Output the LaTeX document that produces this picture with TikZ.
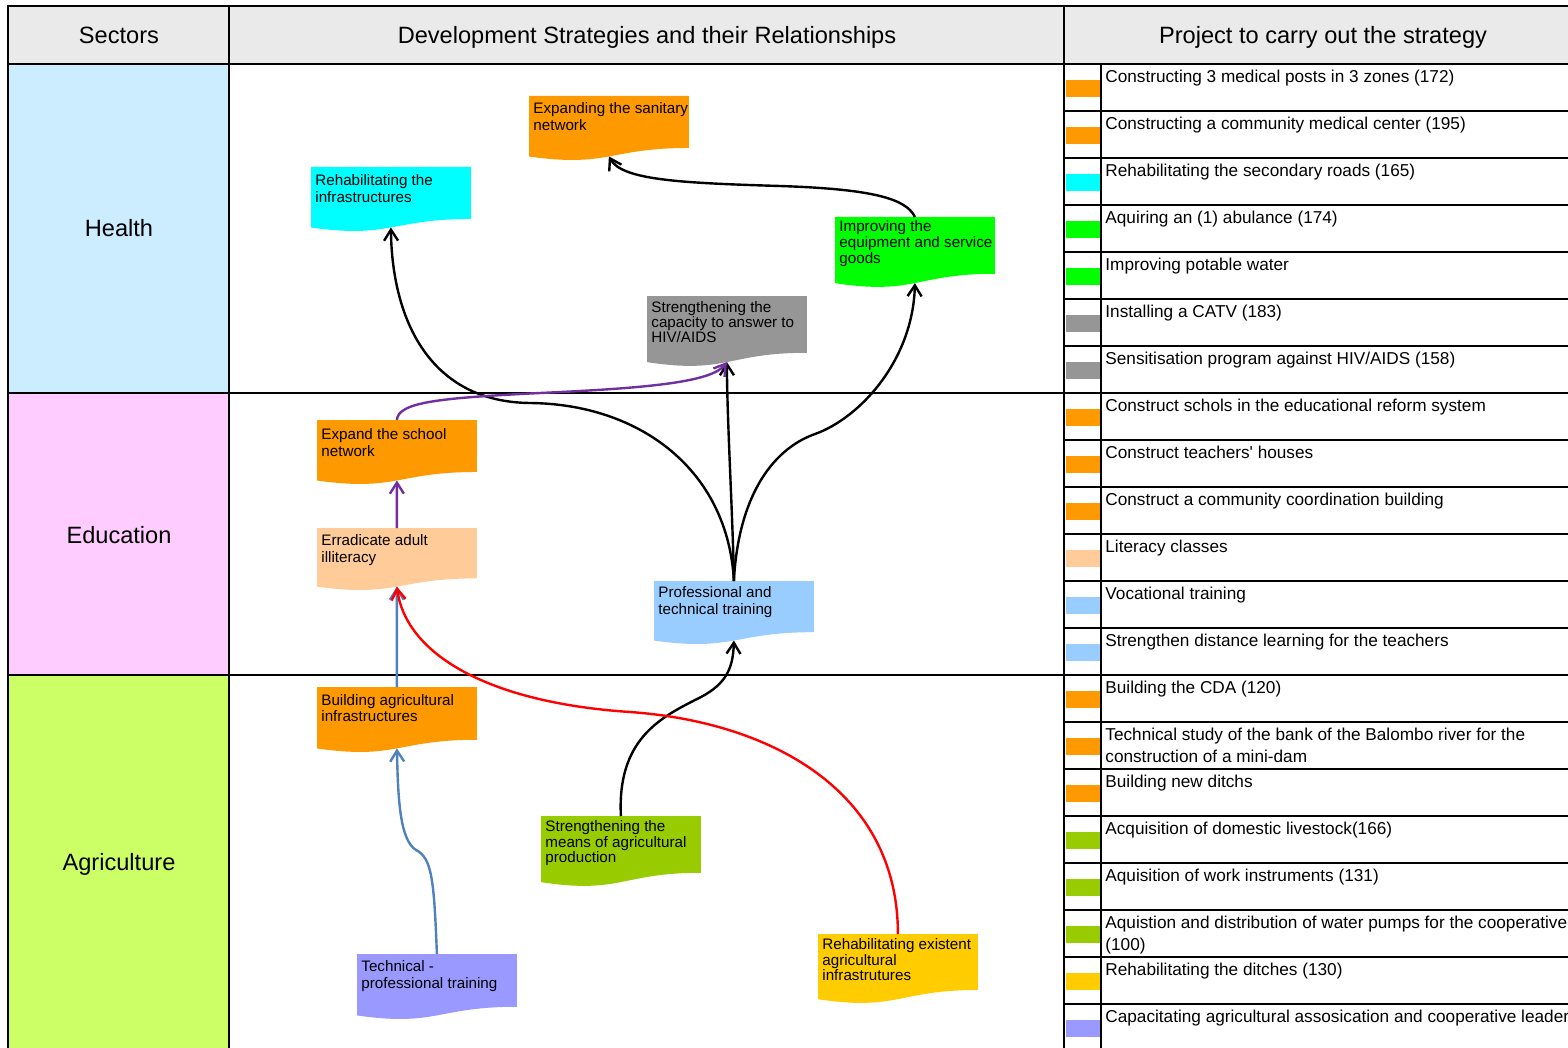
\documentclass[tikz,border=0pt]{standalone}
\usepackage{fontspec}
\setmainfont{Liberation Sans}
\usetikzlibrary{calc,arrows.meta}

% fills
\definecolor{hdrgray}{HTML}{EAEAEA}
\definecolor{healthbg}{HTML}{CCECFF}
\definecolor{edubg}{HTML}{FFCCFF}
\definecolor{agribg}{HTML}{CCFF66}
\definecolor{cOrange}{HTML}{FF9900}
\definecolor{cCyan}{HTML}{00FFFF}
\definecolor{cGreen}{HTML}{00FF00}
\definecolor{cGray}{HTML}{969696}
\definecolor{cPeach}{HTML}{FFCC99}
\definecolor{cSky}{HTML}{99CCFF}
\definecolor{cOlive}{HTML}{99CC00}
\definecolor{cLavender}{HTML}{9999FF}
\definecolor{cGold}{HTML}{FFCC00}
% connector colours
\definecolor{lnSteel}{HTML}{4F81BD}
\definecolor{lnPurple}{HTML}{7030A0}
\definecolor{lnRed}{HTML}{FF0000}

% strategy box with a wavy (document) bottom edge
% #1 name, #2 x, #3 y, #4 height, #5 colour, #6 first baseline offset, #7 baselineskip, #8 text
\newcommand\docbox[8]{%
  \node[docframe, minimum height=#4*0.5pt] (#1) at (#2,#3) {};
  \fill[#5] (#1.north west) -- (#1.north east)
     -- ($(#1.north east)!0.802!(#1.south east)$)
     .. controls ($(#1.north)!0.802!(#1.south)$) and ($(#1.north)!1.107!(#1.south)$)
     .. ($(#1.north west)!0.934!(#1.south west)$) -- cycle;
  \coordinate (#1-b) at ($(#1.north)!0.933!(#1.south)$);
  \node[doctext] (#1-t) at ([shift={(4,#6)}]#1.north west)
     {\parbox[t]{100pt}{\fontsize{7.6}{#7}\selectfont #8}};
}

% one project row: #1 index, #2 colour, #3 text
\newcommand\prow[3]{%
  \pgfmathsetmacro\rowtop{64+47*#1}
  \fill[#2] (1066,\rowtop+16) rectangle (1100,\rowtop+33);
  \node[rowtext] (p#1) at (1105,\rowtop+18.5) {#3};
}

\begin{document}
\begin{tikzpicture}[x=0.5pt,y=-0.5pt,
  tabline/.style={line width=1.3pt},
  rowline/.style={line width=1.1pt},
  hdr/.style={font=\fontsize{11.8}{14}\selectfont, inner sep=0, anchor=base},
  sectorlabel/.style={font=\fontsize{11.8}{14}\selectfont, inner sep=0, anchor=base},
  rowtext/.style={anchor=base west, inner sep=0, font=\fontsize{8.6}{11}\selectfont},
  docframe/.style={anchor=north west, inner sep=0, minimum width=79.5pt, draw=none},
  doctext/.style={anchor=base west, inner sep=0},
  conn/.style={line width=1.2pt, -{Straight Barb[length=5.5pt,width=7pt]}},
]
\useasboundingbox (0,0) rectangle (1568,1048);
\clip (0,0) rectangle (1568,1048);
\fill[white] (0,0) rectangle (1568,1048);

% ---- table background ----
\fill[hdrgray] (8,6) rectangle (1568,64);
\fill[healthbg] (8,64) rectangle (229,393);
\fill[edubg] (8,393) rectangle (229,675);
\fill[agribg] (8,675) rectangle (229,1048);

% ---- project rows ----
\foreach \i in {1,...,21} \draw[rowline] (1064,64+47*\i) -- (1568,64+47*\i);
\prow{0}{cOrange}{Constructing 3 medical posts in 3 zones (172)}
\prow{1}{cOrange}{Constructing a community medical center (195)}
\prow{2}{cCyan}{Rehabilitating the secondary roads (165)}
\prow{3}{cGreen}{Aquiring an (1) abulance (174)}
\prow{4}{cGreen}{Improving potable water}
\prow{5}{cGray}{Installing a CATV (183)}
\prow{6}{cGray}{Sensitisation program against HIV/AIDS (158)}
\prow{7}{cOrange}{Construct schols in the educational reform system}
\prow{8}{cOrange}{Construct teachers\textquotesingle\ houses}
\prow{9}{cOrange}{Construct a community coordination building}
\prow{10}{cPeach}{Literacy classes}
\prow{11}{cSky}{Vocational training}
\prow{12}{cSky}{Strengthen distance learning for the teachers}
\prow{13}{cOrange}{Building the CDA (120)}
\prow{14}{cOrange}{\parbox[t]{300pt}{Technical study of the bank of the Balombo river for the\\construction of a mini-dam}}
\prow{15}{cOrange}{Building new ditchs}
\prow{16}{cOlive}{Acquisition of domestic livestock(166)}
\prow{17}{cOlive}{Aquisition of work instruments (131)}
\prow{18}{cOlive}{\parbox[t]{300pt}{Aquistion and distribution of water pumps for the cooperative\\(100)}}
\prow{19}{cGold}{Rehabilitating the ditches (130)}
\prow{20}{cLavender}{Capacitating agricultural assosication and cooperative leader}

% ---- table frame ----
\draw[tabline] (8,1048) -- (8,6) -- (1568,6);
\draw[tabline] (8,64) -- (1568,64);
\draw[tabline] (8,393) -- (1568,393);
\draw[tabline] (8,675) -- (1568,675);
\draw[tabline] (229,6) -- (229,1048);
\draw[tabline] (1064,6) -- (1064,1048);
\draw[tabline] (1101,64) -- (1101,1048);

% ---- headers and sectors ----
\node[hdr] (hsec) at (119,44) {Sectors};
\node[hdr] (hstr) at (647,44) {Development Strategies and their Relationships};
\node[hdr] (hprj) at (1323,44) {Project to carry out the strategy};
\node[sectorlabel] (health) at (119,237) {Health};
\node[sectorlabel] (education) at (119,543) {Education};
\node[sectorlabel] (agriculture) at (119,870) {Agriculture};

% ---- strategies ----
\docbox{sanit}{529}{96}{64}{cOrange}{18}{8.5}{Expanding the sanitary\\network}
\docbox{infra}{311}{167}{64}{cCyan}{19}{8.2}{Rehabilitating the\\infrastructures}
\docbox{equip}{835}{217}{70}{cGreen}{15}{7.8}{Improving the\\equipment and service\\goods}
\docbox{hiv}{647}{296}{70}{cGray}{16}{7.6}{Strengthening the\\capacity to answer to\\HIV/AIDS}
\docbox{school}{317}{420}{64}{cOrange}{19.5}{8.5}{Expand the school\\network}
\docbox{literacy}{317}{528}{62}{cPeach}{17.5}{8.5}{Erradicate adult\\illiteracy}
\docbox{proftrain}{654}{581}{63}{cSky}{16.5}{8.5}{Professional and\\technical training}
\docbox{agrinfra}{317}{687}{65}{cOrange}{18.5}{8.1}{Building agricultural\\infrastructures}
\docbox{means}{541}{816}{70}{cOlive}{15.5}{7.8}{Strengthening the\\means of agricultural\\production}
\docbox{techprof}{357}{954}{65}{cLavender}{17.5}{8.5}{Technical -\\professional training}
\docbox{rehabagri}{818}{934}{69}{cGold}{15.5}{7.8}{Rehabilitating existent\\agricultural\\infrastrutures}

% ---- relationships ----
\draw[conn] (equip.north) .. controls (906,198) and (870,189) .. (780,186)
   .. controls (680,183) and (622,180) .. (sanit-b);
\draw[conn] (proftrain.north) .. controls (728,470) and (640,404) .. (530,403)
   .. controls (430,402) and (392,320) .. (infra-b);
\draw[conn] (proftrain.north) .. controls (733,520) and (727,420) .. (hiv-b);
\draw[conn] (proftrain.north) .. controls (738,500) and (770,450) .. (815,434)
   .. controls (860,418) and (913,360) .. (equip-b);
\draw[conn] (means.north) .. controls (617,740) and (660,718) .. (695,700)
   .. controls (725,686) and (733,670) .. (proftrain-b);
\draw[conn, lnSteel] (techprof.north) .. controls (434,880) and (432,858) .. (416,850)
   .. controls (400,840) and (398,800) .. (agrinfra-b);
\draw[conn, lnSteel] (agrinfra.north) -- (literacy-b);
\draw[conn, lnRed] (rehabagri.north) .. controls (898,790) and (770,722) .. (630,712)
   .. controls (480,702) and (405,650) .. (literacy-b);
\draw[conn, lnPurple] (literacy.north) -- (school-b);
\draw[conn, lnPurple] (school.north) .. controls (398,402) and (440,398) .. (540,393)
   .. controls (650,388) and (712,382) .. (hiv-b);
\end{tikzpicture}
\end{document}
